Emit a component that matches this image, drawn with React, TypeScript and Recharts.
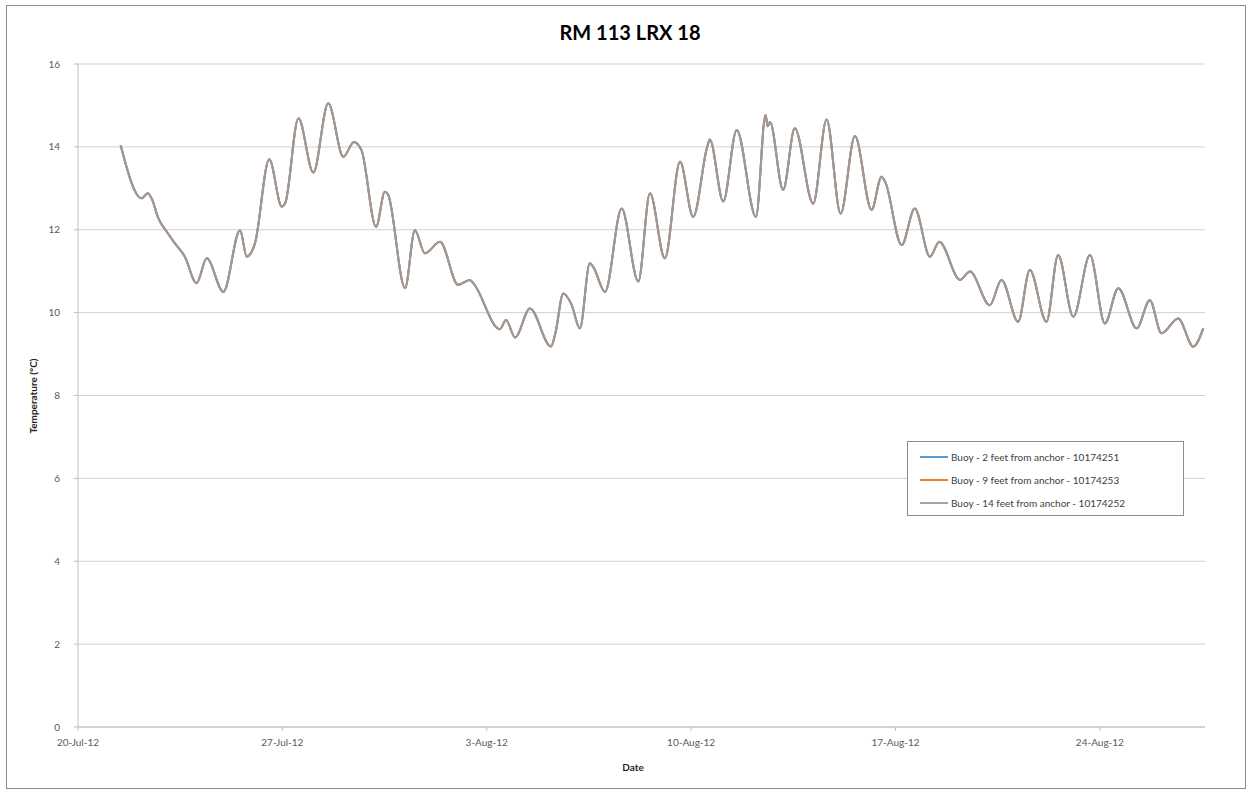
import React from 'react';
import { LineChart, Line, XAxis, YAxis, CartesianGrid } from 'recharts';

// days elapsed since 20-Jul-12
const dayOffsets = [
  1.46, 2.18, 2.39, 2.52, 2.75, 3.04, 3.32, 3.66, 4.06, 4.41, 4.98, 5.55, 5.78, 6.06, 6.55, 6.98, 7.1,
  7.55, 8.06, 8.57, 9.09, 9.45, 9.71, 10.21, 10.51, 10.62, 11.2, 11.54, 11.88, 12.4, 13.02, 13.42, 13.55,
  14.45, 14.66, 14.97, 15.48, 16.2, 16.35, 16.62, 16.9, 17.19, 17.53, 17.65, 18.05, 18.62, 19.19, 19.59,
  20.1, 20.62, 21.07, 21.55, 21.64, 22.1, 22.56, 23.22, 23.55, 23.62, 23.7, 24.15, 24.55, 25.18, 25.64,
  26.12, 26.61, 27.18, 27.52, 27.65, 28.21, 28.66, 29.18, 29.5, 30.21, 30.55, 31.23, 31.63, 32.2, 32.6,
  33.17, 33.57, 34.09, 34.66, 35.17, 35.63, 36.26, 36.71, 37.11, 37.68, 38.2, 38.54,
];

const buoy2ft = [
  14.04, 12.76, 12.88, 12.76, 12.28, 11.95, 11.67, 11.35, 10.71, 11.31, 10.5, 11.99, 11.35, 11.67, 13.7, 12.56, 12.65,
  14.69, 13.38, 15.05, 13.76, 14.12, 13.92, 12.07, 12.92, 12.85, 10.59, 11.99, 11.43, 11.71, 10.67, 10.79, 10.7,
  9.6, 9.82, 9.4, 10.1, 9.18, 9.5, 10.46, 10.2, 9.62, 11.19, 11.1, 10.5, 12.51, 10.75, 12.88,
  11.31, 13.64, 12.31, 14.0, 14.18, 12.68, 14.41, 12.31, 14.77, 14.5, 14.6, 12.96, 14.45, 12.63, 14.66,
  12.39, 14.26, 12.48, 13.28, 13.15, 11.63, 12.51, 11.35, 11.71, 10.79, 10.99, 10.18, 10.79, 9.78, 11.03,
  9.78, 11.39, 9.9, 11.39, 9.74, 10.59, 9.62, 10.3, 9.5, 9.86, 9.18, 9.62,
];
// the other two loggers overlap the first one everywhere on the plot
const buoy9ft = [...buoy2ft];
const buoy14ft = [...buoy2ft];

const tickDays = [0, 7, 14, 21, 28, 35];
const tickLabels = ['20-Jul-12', '27-Jul-12', '3-Aug-12', '10-Aug-12', '17-Aug-12', '24-Aug-12'];
const yTicks = [0, 2, 4, 6, 8, 10, 12, 14, 16];

const seriesNames = [
  'Buoy - 2 feet from anchor - 10174251',
  'Buoy - 9 feet from anchor - 10174253',
  'Buoy - 14 feet from anchor - 10174252',
];
const seriesColors = ['#5b9bd5', '#ed7d31', '#a5a5a5'];

const rows = dayOffsets.map((d, i) => ({
  day: d,
  b2: buoy2ft[i],
  b9: buoy9ft[i],
  b14: buoy14ft[i],
}));

const FONT = 'Lato, "Liberation Sans", sans-serif';

const LegendBox = () => (
  <div
    style={{
      position: 'absolute',
      left: 907,
      top: 441,
      border: '1px solid #8c8c8c',
      background: '#fff',
      width: 277,
      height: 75,
      boxSizing: 'border-box',
      padding: '3px 0 0 12px',
      fontFamily: FONT,
      fontSize: 10,
      color: '#404040',
    }}
  >
    {seriesNames.map((n, i) => (
      <div key={n} style={{ display: 'flex', alignItems: 'center', height: 23 }}>
        <span style={{ display: 'inline-block', width: 28, height: 2, background: seriesColors[i], marginRight: 3 }} />
        <span>{n}</span>
      </div>
    ))}
  </div>
);

export default function App() {
  return (
    <div style={{ position: 'absolute', left: 0, top: 0, width: 1249, height: 791, background: '#fff' }}>
      <div
        style={{
          position: 'absolute',
          left: 6,
          top: 5,
          width: 1240,
          height: 784,
          border: '1px solid #8c8c8c',
          boxSizing: 'border-box',
        }}
      />
      <div
        style={{
          position: 'absolute',
          left: 0,
          width: 1260,
          top: 20,
          textAlign: 'center',
          fontFamily: FONT,
          fontWeight: 700,
          fontSize: 20,
          color: '#000',
        }}
      >
        RM 113 LRX 18
      </div>
      <div
        style={{
          position: 'absolute',
          left: 33,
          top: 396,
          transform: 'translate(-50%, -50%) rotate(-90deg)',
          fontFamily: FONT,
          fontWeight: 700,
          fontSize: 10,
          color: '#262626',
          whiteSpace: 'nowrap',
        }}
      >
        Temperature (°C)
      </div>
      <div
        style={{
          position: 'absolute',
          left: 633,
          top: 767,
          transform: 'translate(-50%, -50%)',
          fontFamily: FONT,
          fontWeight: 700,
          fontSize: 10,
          color: '#262626',
        }}
      >
        Date
      </div>
      <div style={{ position: 'absolute', left: 0, top: 0 }}>
        <LineChart
          width={1249}
          height={791}
          data={rows}
          margin={{ top: 64, right: 44, left: 18, bottom: 24 }}
        >
          <CartesianGrid vertical={false} stroke="#d0d0d0" />
          <XAxis
            dataKey="day"
            type="number"
            domain={[0, 38.6]}
            ticks={tickDays}
            tickFormatter={(v: number) => tickLabels[tickDays.indexOf(v)] ?? ''}
            height={40}
            stroke="#bfbfbf"
            tickSize={4}
            tickMargin={8}
            tick={{ fill: '#595959', fontSize: 10, fontFamily: FONT }}
            allowDataOverflow
          />
          <YAxis
            type="number"
            domain={[0, 16]}
            ticks={yTicks}
            width={60}
            stroke="#bfbfbf"
            tickSize={4}
            tickMargin={14}
            tick={{ fill: '#595959', fontSize: 10, fontFamily: FONT }}
          />
          <Line dataKey="b2" name={seriesNames[0]} type="monotone" stroke={seriesColors[0]} strokeWidth={2} dot={false} isAnimationActive={false} />
          <Line dataKey="b9" name={seriesNames[1]} type="monotone" stroke={seriesColors[1]} strokeWidth={2} dot={false} isAnimationActive={false} />
          <Line dataKey="b14" name={seriesNames[2]} type="monotone" stroke="#9a9a9a" strokeWidth={2} dot={false} isAnimationActive={false} />
        </LineChart>
      </div>
      <LegendBox />
    </div>
  );
}
